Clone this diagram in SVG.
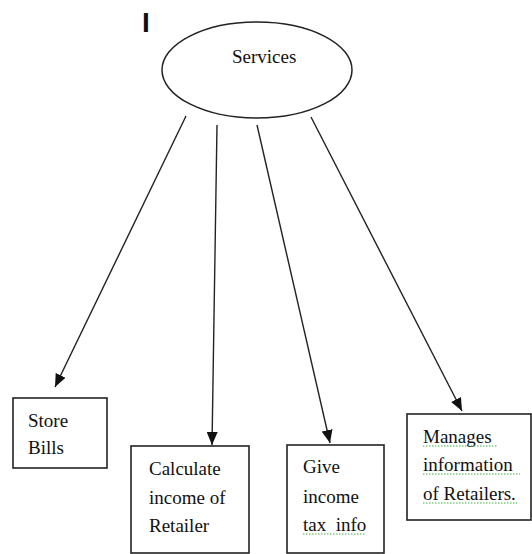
<svg xmlns="http://www.w3.org/2000/svg" width="532" height="554" viewBox="0 0 532 554">
<style>
.t{font-family:"Liberation Serif","Times New Roman",Times,serif;font-size:19px;fill:#111}
.box{fill:#fff;stroke:#222;stroke-width:1.6}
.edge{stroke:#222;stroke-width:1.4;fill:none}
.sq{stroke:#3cb043;stroke-width:1;fill:none;stroke-dasharray:1.5 1.5}
</style>
<defs>
<marker id="ah" viewBox="0 0 13 11" refX="13" refY="5.5" markerWidth="13" markerHeight="11" markerUnits="userSpaceOnUse" orient="auto">
<path d="M0,0 L13,5.5 L0,11 z" fill="#111"/>
</marker>
</defs>
<rect width="532" height="554" fill="#fff"/>
<text x="142" y="32" style="font-family:'Liberation Sans',Arial,sans-serif;font-size:28px;font-weight:bold;fill:#111">I</text>
<g id="services">
<ellipse cx="257" cy="70" rx="95" ry="48" fill="#fff" stroke="#222" stroke-width="1.5"/>
<text class="t" x="232" y="63">Services</text>
</g>
<g id="connectors">
<line class="edge" x1="186" y1="116" x2="55" y2="387" marker-end="url(#ah)"/>
<line class="edge" x1="217" y1="125" x2="212" y2="445" marker-end="url(#ah)"/>
<line class="edge" x1="257" y1="125" x2="330" y2="443" marker-end="url(#ah)"/>
<line class="edge" x1="311" y1="117" x2="462" y2="411" marker-end="url(#ah)"/>
</g>
<g id="store">
<rect class="box" x="13" y="398" width="94" height="70"/>
<text class="t" x="28" y="427">Store</text>
<text class="t" x="28" y="454">Bills</text>
</g>
<g id="calculate">
<rect class="box" x="131" y="446" width="118" height="107"/>
<text class="t" x="149" y="475">Calculate</text>
<text class="t" x="149" y="504">income of</text>
<text class="t" x="149" y="532">Retailer</text>
</g>
<g id="give">
<rect class="box" x="287" y="445" width="97" height="108"/>
<text class="t" x="303" y="473">Give</text>
<text class="t" x="303" y="503">income</text>
<text class="t" x="303" y="531" xml:space="preserve">tax  info</text>
<path class="sq" d="M303,534 H366"/>
</g>
<g id="manages">
<rect class="box" x="407" y="414" width="124" height="106"/>
<text class="t" x="423" y="443">Manages</text>
<text class="t" x="423" y="471">information</text>
<text class="t" x="423" y="500">of Retailers.</text>
<path class="sq" d="M423,446 H497 M423,474 H520 M423,503 H517"/>
</g>
</svg>
